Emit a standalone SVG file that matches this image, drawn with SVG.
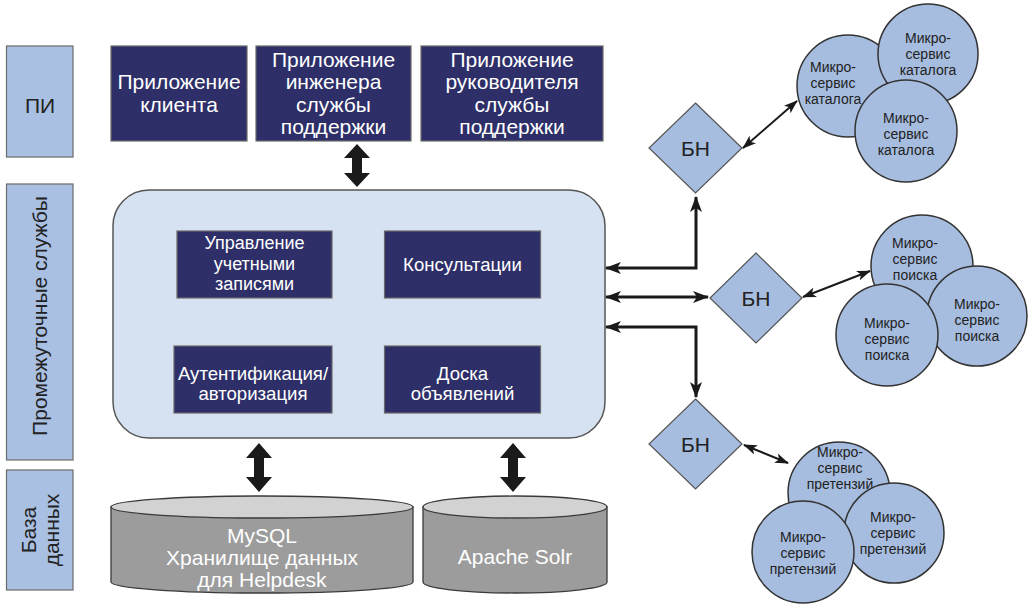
<svg xmlns="http://www.w3.org/2000/svg" width="1030" height="605" viewBox="0 0 1030 605">
<style>
.lbl{fill:#a9c0e2;stroke:#6b6b6b;stroke-width:1.2}
.lt{font-family:"Liberation Sans",Arial,sans-serif;font-size:21px;fill:#222;text-anchor:middle}
.app{fill:#2e2f68;stroke:#6a6a6a;stroke-width:1.2}
.at{font-family:"Liberation Sans",Arial,sans-serif;font-size:21px;fill:#fff;text-anchor:middle}
.it{font-family:"Liberation Sans",Arial,sans-serif;font-size:18.6px;fill:#fff;text-anchor:middle}
.it2{font-family:"Liberation Sans",Arial,sans-serif;font-size:18px;fill:#fff;text-anchor:middle}
.main{fill:#d6e2f1;stroke:#555;stroke-width:1.5}
.cylb{fill:#9c9c9c;stroke:#3a3a3a;stroke-width:1.3}
.cylt{fill:#d2d2d2;stroke:#3a3a3a;stroke-width:1.3}
.dt{font-family:"Liberation Sans",Arial,sans-serif;font-size:21px;fill:#fff;text-anchor:middle}
.dia{fill:#a6bddf;stroke:#555;stroke-width:1.2}
.circ{fill:#a6bddf;stroke:#333;stroke-width:1.5}
.ct{font-family:"Liberation Sans",Arial,sans-serif;font-size:14px;fill:#222;text-anchor:middle}
.thin{fill:none;stroke:#1a1a1a;stroke-width:3}
.thin2{fill:none;stroke:#1a1a1a;stroke-width:2}
.thick{fill:#1a1a1a}
</style>
<defs>
<marker id="ah" viewBox="0 0 16 12" refX="15" refY="6" markerWidth="16" markerHeight="12" markerUnits="userSpaceOnUse" orient="auto-start-reverse">
<path d="M0,0 L16,6 L0,12 L4,6 z" fill="#1a1a1a"/>
</marker>
<marker id="ahs" viewBox="0 0 14 10" refX="13" refY="5" markerWidth="14" markerHeight="10" markerUnits="userSpaceOnUse" orient="auto-start-reverse">
<path d="M0,0 L14,5 L0,10 L3.5,5 z" fill="#1a1a1a"/>
</marker>
</defs>

<g id="label-pi">
<rect class="lbl" x="6.5" y="46" width="66.5" height="111"/>
<text class="lt" x="40" y="113">ПИ</text>
</g>
<g id="label-middleware">
<rect class="lbl" x="6.5" y="184" width="66.5" height="276"/>
<text class="lt" transform="translate(47,316) rotate(-90)" x="0" y="0">Промежуточные службы</text>
</g>
<g id="label-db">
<rect class="lbl" x="6.5" y="470" width="66.5" height="120"/>
<text class="lt" transform="translate(36,530) rotate(-90)" x="0" y="0">База</text>
<text class="lt" transform="translate(59,530) rotate(-90)" x="0" y="0">данных</text>
</g>

<g id="app-client">
<rect class="app" x="111" y="46" width="136" height="95"/>
<text class="at" x="179" y="89">Приложение</text>
<text class="at" x="179" y="112">клиента</text>
</g>
<g id="app-engineer">
<rect class="app" x="256" y="46" width="155" height="95"/>
<text class="at" x="333.5" y="67">Приложение</text>
<text class="at" x="333.5" y="89">инженера</text>
<text class="at" x="333.5" y="112">службы</text>
<text class="at" x="333.5" y="134">поддержки</text>
</g>
<g id="app-manager">
<rect class="app" x="421" y="46" width="182" height="95"/>
<text class="at" x="512" y="67">Приложение</text>
<text class="at" x="512" y="89">руководителя</text>
<text class="at" x="512" y="112">службы</text>
<text class="at" x="512" y="134">поддержки</text>
</g>

<g id="middleware">
<rect class="main" x="113" y="190" width="492" height="248" rx="36" ry="36"/>
</g>
<g id="svc-accounts">
<rect class="app" x="177" y="231" width="155" height="67"/>
<text class="it2" x="254.5" y="249">Управление</text>
<text class="it2" x="254.5" y="269.5">учетными</text>
<text class="it2" x="254.5" y="290">записями</text>
</g>
<g id="svc-consult">
<rect class="app" x="384.5" y="231" width="156" height="67"/>
<text class="it" x="462.5" y="271">Консультации</text>
</g>
<g id="svc-auth">
<rect class="app" x="174" y="346" width="158" height="67"/>
<text class="it" x="253" y="380">Аутентификация/</text>
<text class="it" x="253" y="400">авторизация</text>
</g>
<g id="svc-board">
<rect class="app" x="384.5" y="346" width="156" height="67"/>
<text class="it" x="462.5" y="380">Доска</text>
<text class="it" x="462.5" y="400">объявлений</text>
</g>

<g id="db-mysql">
<path class="cylb" d="M111,507 L111,582 A151,11 0 0 0 413,582 L413,507 Z"/>
<ellipse class="cylt" cx="262" cy="507" rx="151" ry="11"/>
<text class="dt" x="262" y="543">MySQL</text>
<text class="dt" x="262" y="565">Хранилище данных</text>
<text class="dt" x="262" y="587">для Helpdesk</text>
</g>
<g id="db-solr">
<path class="cylb" d="M423,507 L423,582 A92,11 0 0 0 607,582 L607,507 Z"/>
<ellipse class="cylt" cx="515" cy="507" rx="92" ry="11"/>
<text class="dt" x="515" y="564">Apache Solr</text>
</g>

<g id="bn1">
<polygon class="dia" points="695.5,103 742,148 695.5,193 649,148"/>
<text class="lt" x="695.5" y="156">БН</text>
</g>
<g id="bn2">
<polygon class="dia" points="756,253 802,298 756,343 710,298"/>
<text class="lt" x="756" y="306">БН</text>
</g>
<g id="bn3">
<polygon class="dia" points="695.5,399 742,444 695.5,489 649,444"/>
<text class="lt" x="695.5" y="452">БН</text>
</g>

<g id="catalog-1">
<circle class="circ" cx="848" cy="86" r="51"/>
<text class="ct" x="833" y="72">Микро-</text>
<text class="ct" x="833" y="88">сервис</text>
<text class="ct" x="833" y="104">каталога</text>
</g>
<g id="catalog-2">
<circle class="circ" cx="928" cy="54" r="50"/>
<text class="ct" x="928" y="43">Микро-</text>
<text class="ct" x="928" y="59">сервис</text>
<text class="ct" x="928" y="75">каталога</text>
</g>
<g id="catalog-3">
<circle class="circ" cx="906" cy="131" r="51"/>
<text class="ct" x="906" y="123">Микро-</text>
<text class="ct" x="906" y="139">сервис</text>
<text class="ct" x="906" y="155">каталога</text>
</g>

<g id="search-1">
<circle class="circ" cx="922" cy="266" r="51"/>
<text class="ct" x="915" y="248">Микро-</text>
<text class="ct" x="915" y="264">сервис</text>
<text class="ct" x="915" y="280">поиска</text>
</g>
<g id="search-2">
<circle class="circ" cx="977" cy="316" r="50"/>
<text class="ct" x="977" y="309">Микро-</text>
<text class="ct" x="977" y="325">сервис</text>
<text class="ct" x="977" y="341">поиска</text>
</g>
<g id="search-3">
<circle class="circ" cx="887" cy="335" r="51"/>
<text class="ct" x="887" y="328">Микро-</text>
<text class="ct" x="887" y="344">сервис</text>
<text class="ct" x="887" y="360">поиска</text>
</g>

<g id="claims-1">
<circle class="circ" cx="839" cy="493" r="51"/>
<text class="ct" x="840" y="457">Микро-</text>
<text class="ct" x="840" y="473">сервис</text>
<text class="ct" x="840" y="489">претензий</text>
</g>
<g id="claims-2">
<circle class="circ" cx="894" cy="533" r="50"/>
<text class="ct" x="893" y="522">Микро-</text>
<text class="ct" x="893" y="538">сервис</text>
<text class="ct" x="893" y="554">претензий</text>
</g>
<g id="claims-3">
<circle class="circ" cx="803" cy="552" r="51"/>
<text class="ct" x="803" y="542">Микро-</text>
<text class="ct" x="803" y="558">сервис</text>
<text class="ct" x="803" y="574">претензий</text>
</g>

<g id="connectors">
<polygon class="thick" points="357,144 370,158 362,158 362,173 370,173 357,187 344,173 352,173 352,158 344,158"/>
<polygon class="thick" points="259,443 272,458 264,458 264,477 272,477 259,492 246,477 254,477 254,458 246,458"/>
<polygon class="thick" points="513,443 526,458 518,458 518,477 526,477 513,492 500,477 508,477 508,458 500,458"/>
<path class="thin" d="M696,197 L696,268 L606,268" marker-start="url(#ah)" marker-end="url(#ah)"/>
<path class="thin" d="M606,297 L708,297" marker-start="url(#ah)" marker-end="url(#ah)"/>
<path class="thin" d="M606,327 L696,327 L696,397" marker-start="url(#ah)" marker-end="url(#ah)"/>
<path class="thin2" d="M743,148 L797,101" marker-start="url(#ahs)" marker-end="url(#ahs)"/>
<path class="thin2" d="M803,297 L870,271" marker-start="url(#ahs)" marker-end="url(#ahs)"/>
<path class="thin2" d="M744,445 L788,463" marker-start="url(#ahs)" marker-end="url(#ahs)"/>
</g>
</svg>
